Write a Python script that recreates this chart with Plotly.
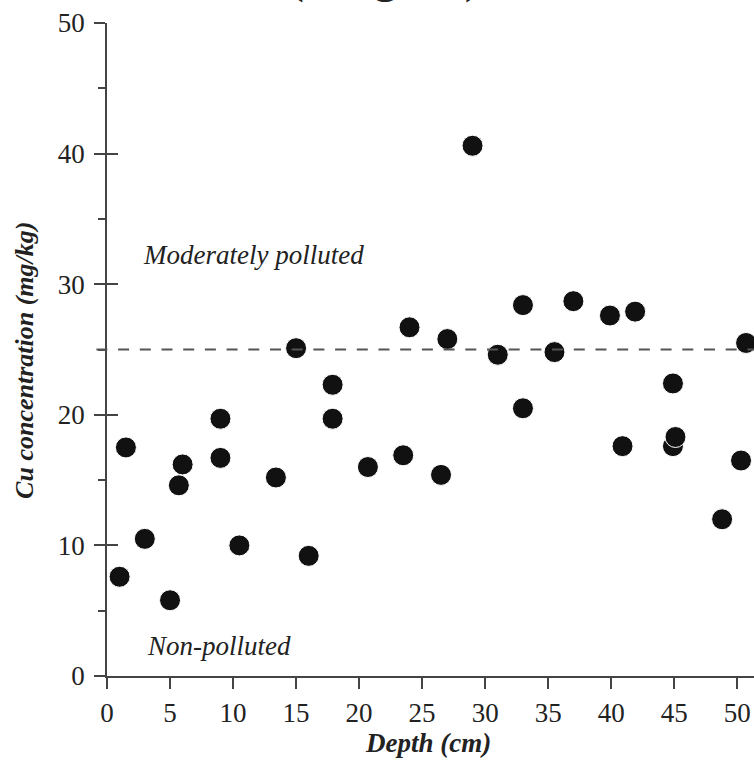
import plotly.graph_objects as go

# ---- data ----
depth_cm = [1.0, 1.5, 3.0, 5.0, 5.7, 6.0, 9.0, 9.0, 10.5, 13.4, 15.0, 16.0,
            17.9, 17.9, 20.7, 23.5, 24.0, 26.5, 27.0, 29.0, 31.0, 33.0, 33.0,
            35.5, 37.0, 39.9, 41.9, 40.9, 44.9, 44.9, 45.1, 48.8, 50.3, 50.7]
cu_mg_kg = [7.6, 17.5, 10.5, 5.8, 14.6, 16.2, 19.7, 16.7, 10.0, 15.2, 25.1, 9.2,
            22.3, 19.7, 16.0, 16.9, 26.7, 15.4, 25.8, 40.6, 24.6, 28.4, 20.5,
            24.8, 28.7, 27.6, 27.9, 17.6, 22.4, 17.6, 18.3, 12.0, 16.5, 25.5]
threshold = 25
x_ticks = [0, 5, 10, 15, 20, 25, 30, 35, 40, 45, 50]
y_ticks = [0, 10, 20, 30, 40, 50]
y_minor = [5, 15, 25, 35, 45]
x_max = 51.33

FONT = "Liberation Serif"
AX = "#444444"

fig = go.Figure()
fig.add_trace(go.Scatter(
    x=depth_cm, y=cu_mg_kg, mode="markers",
    marker=dict(size=21, color="#111111", line=dict(color="white", width=1)),
    showlegend=False, hoverinfo="skip"))

fig.add_shape(type="line", xref="paper", yref="y", x0=-0.0164, x1=1,
              y0=threshold, y1=threshold,
              line=dict(color="#555555", width=2, dash="11px,10.7px"))

fig.update_layout(
    width=754, height=761,
    margin=dict(l=107.3, r=0, t=22.7, b=85.3),
    paper_bgcolor="white", plot_bgcolor="white",
    font=dict(family=FONT, size=27, color="#222222"),
    xaxis=dict(range=[0, x_max], tickvals=x_ticks, ticks="outside", ticklen=11,
               tickwidth=1.5, tickcolor=AX, showline=True, linecolor=AX,
               linewidth=1.5, showgrid=False, zeroline=False,
               ticklabelstandoff=1,
               tickfont=dict(family=FONT, size=27, color="#222222")),
    yaxis=dict(range=[0, 50], tickvals=y_ticks, ticks="outside", ticklen=11,
               tickwidth=1.5, tickcolor=AX, showline=True, linecolor=AX,
               linewidth=1.5, showgrid=False, zeroline=False,
               ticklabelstandoff=4,
               tickfont=dict(family=FONT, size=27, color="#222222"),
               minor=dict(tickvals=y_minor, ticks="outside", ticklen=7,
                          tickwidth=1.5, tickcolor=AX)),
    yaxis2=dict(range=[0, 50], overlaying="y", side="left", tickvals=y_ticks,
                ticks="inside", ticklen=11, tickwidth=1.5, tickcolor=AX,
                showticklabels=False, showline=False, showgrid=False,
                zeroline=False),
)
fig.add_trace(go.Scatter(x=[None], y=[None], yaxis="y2", showlegend=False,
                         hoverinfo="skip"))

ann = [
    dict(text="<i>Moderately polluted</i>", x=2.73, y=32.2, xref="x", yref="y",
         xanchor="left", yanchor="middle", font=dict(size=27)),
    dict(text="<i>Non-polluted</i>", x=3.0, y=2.3, xref="x", yref="y",
         xanchor="left", yanchor="middle", font=dict(size=27)),
    dict(text="<b><i>Depth (cm)</i></b>", x=0.496, y=-0.103, xref="paper",
         yref="paper", xanchor="center", yanchor="middle", font=dict(size=27)),
    dict(text="<b><i>Cu concentration (mg/kg)</i></b>", x=-0.1273, y=0.4835,
         xref="paper", yref="paper", xanchor="center", yanchor="middle",
         textangle=-90, font=dict(size=26)),
    dict(text="<b>(Qingdao)</b>", x=0.429, y=1.027, xref="paper", yref="paper",
         xanchor="center", yanchor="bottom", font=dict(size=44)),
]
for a in ann:
    a["showarrow"] = False
    fig.add_annotation(**a)

fig.write_html("out.html")
